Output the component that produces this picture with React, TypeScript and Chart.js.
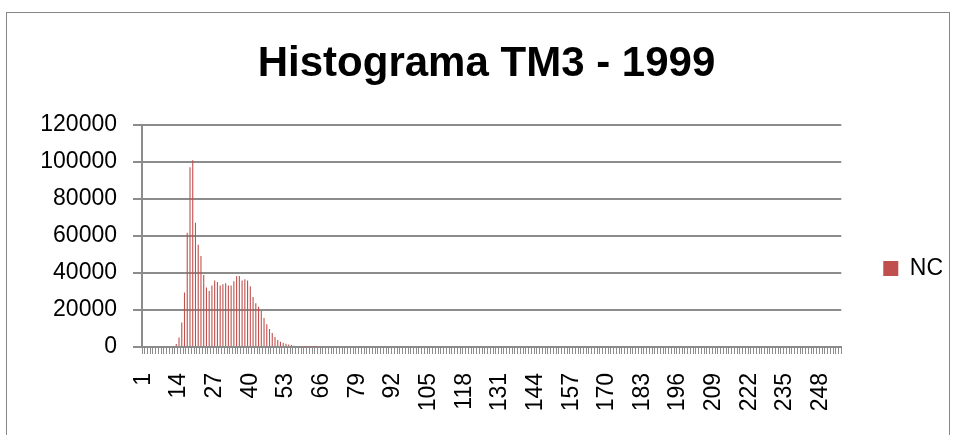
import React, { useEffect, useRef } from 'react';
import { Chart, registerables } from 'chart.js';

Chart.register(...registerables);

const chartTitle = 'Histograma TM3 - 1999';
const seriesName = 'NC';

// categories 1..255
const categories: string[] = Array.from({ length: 255 }, (_, i) => String(i + 1));

// histogram counts (category 1..255)
const ncValues: number[] = [
  0, 0, 0, 0, 0, 0, 0, 0, 0, 0, 0, 200, 1600, 5200, 13300, 29400, 61800, 97100, 101000, 67200,
  55300, 49200, 38900, 32100, 30300, 33200, 35900, 35100, 33200, 33900, 34400, 33300, 33300, 35500, 38200, 38400, 36000, 36600, 36000, 32800,
  27000, 23600, 21800, 19600, 15700, 12300, 9700, 7600, 5400, 3800, 2900, 2300, 1800, 1400, 1100, 700, 500, 400, 300, 200,
  150, 100, 80, 50, 0, 0, 0, 0, 0, 0, 0, 0, 0, 0, 0, 0, 0, 0, 0, 0,
  0, 0, 0, 0, 0, 0, 0, 0, 0, 0, 0, 0, 0, 0, 0, 0, 0, 0, 0, 0,
  0, 0, 0, 0, 0, 0, 0, 0, 0, 0, 0, 0, 0, 0, 0, 0, 0, 0, 0, 0,
  0, 0, 0, 0, 0, 0, 0, 0, 0, 0, 0, 0, 0, 0, 0, 0, 0, 0, 0, 0,
  0, 0, 0, 0, 0, 0, 0, 0, 0, 0, 0, 0, 0, 0, 0, 0, 0, 0, 0, 0,
  0, 0, 0, 0, 0, 0, 0, 0, 0, 0, 0, 0, 0, 0, 0, 0, 0, 0, 0, 0,
  0, 0, 0, 0, 0, 0, 0, 0, 0, 0, 0, 0, 0, 0, 0, 0, 0, 0, 0, 0,
  0, 0, 0, 0, 0, 0, 0, 0, 0, 0, 0, 0, 0, 0, 0, 0, 0, 0, 0, 0,
  0, 0, 0, 0, 0, 0, 0, 0, 0, 0, 0, 0, 0, 0, 0, 0, 0, 0, 0, 0,
  0, 0, 0, 0, 0, 0, 0, 0, 0, 0, 0, 0, 0, 0, 0,
];

// x tick labels that are shown
const shownXTicks: string[] = ['1', '14', '27', '40', '53', '66', '79', '92', '105', '118', '131', '144', '157', '170', '183', '196', '209', '222', '235', '248'];

const yMin = 0;
const yMax = 120000;
const yStep = 20000;

const FONT = "'Liberation Sans', Arial, sans-serif";
const GRID = '#8c8c8c';
const BAR = '#C0504D';

export default function App() {
  const ref = useRef<HTMLCanvasElement | null>(null);

  useEffect(() => {
    if (!ref.current) return;
    const chart = new Chart(ref.current, {
      type: 'bar',
      data: {
        labels: categories,
        datasets: [
          {
            label: seriesName,
            data: ncValues,
            backgroundColor: BAR,
            borderWidth: 0,
            barPercentage: 0.4,
            categoryPercentage: 1.0,
          },
        ],
      },
      options: {
        animation: false,
        responsive: false,
        maintainAspectRatio: false,
        events: [],
        layout: { padding: { left: 20, right: 0, top: 0, bottom: 0 } },
        plugins: {
          title: {
            display: true,
            text: chartTitle,
            color: '#000',
            font: { family: FONT, size: 42, weight: 'bold' },
            padding: { top: 39.25, bottom: 35.35 },
          },
          legend: {
            display: true,
            position: 'right',
            fullSize: false,
            labels: {
              boxWidth: 15,
              boxHeight: 15,
              padding: 42,
              color: '#000',
              font: { family: FONT, size: 23 },
            },
            title: {
              display: true,
              text: '',
              font: { size: 12 },
              padding: { top: 25.3, bottom: 25.3 },
            },
          },
          tooltip: { enabled: false },
        },
        scales: {
          x: {
            grid: {
              display: true,
              drawOnChartArea: false,
              drawTicks: true,
              tickLength: 7,
              color: GRID,
              lineWidth: 1,
              offset: true,
            },
            border: { display: true, color: GRID, width: 2 },
            ticks: {
              autoSkip: false,
              maxRotation: 90,
              minRotation: 90,
              padding: 19,
              color: '#000',
              font: { family: FONT, size: 23 },
              callback: function (this: any, value: any, index: number) {
                const lab = categories[index];
                return shownXTicks.includes(lab) ? lab : '';
              },
            },
            afterFit: (s: any) => {
              s.height = 88;
            },
          },
          y: {
            min: yMin,
            max: yMax,
            ticks: {
              stepSize: yStep,
              padding: 16,
              color: '#000',
              font: { family: FONT, size: 23 },
              callback: (v: any) => String(v),
            },
            grid: { color: GRID, lineWidth: 2, tickLength: 9 },
            border: { display: true, color: GRID, width: 2 },
            afterFit: (s: any) => {
              s.width = 122;
            },
          },
        },
      },
    } as any);
    return () => chart.destroy();
  }, []);

  return (
    <div style={{ position: 'absolute', left: 0, top: 0, width: 953, height: 435, overflow: 'hidden', background: '#fff' }}>
      <div
        style={{
          position: 'absolute',
          left: 6,
          top: 12,
          width: 944,
          height: 500,
          border: '1px solid #868686',
          boxSizing: 'border-box',
        }}
      />
      <canvas
        ref={ref}
        width={953}
        height={435}
        style={{ position: 'absolute', left: 0, top: 0, width: 953, height: 435 }}
      />
    </div>
  );
}
